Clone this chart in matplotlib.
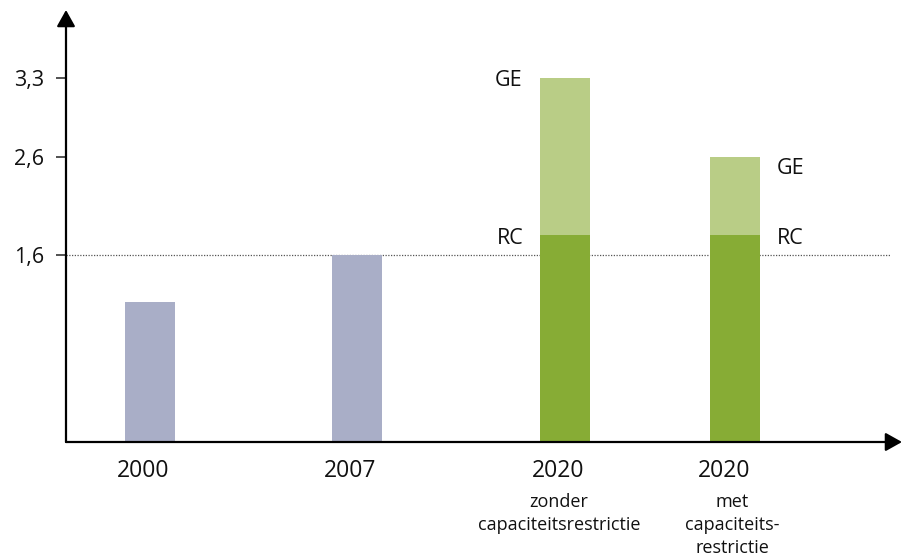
import numpy as np
import matplotlib
matplotlib.use("Agg")
import matplotlib.pyplot as plt
from matplotlib.transforms import blended_transform_factory, ScaledTranslation

# ---- data ----
years = ["2000", "2007", "2020", "2020"]
subtitles = ["", "", "zonder\ncapaciteitsrestrictie", "met\ncapaciteits-\nrestrictie"]
base_values = [1.2, 1.6, 0.0, 0.0]      # grey bars
rc_values = [0.0, 0.0, 1.8, 1.8]        # RC (dark green)
ge_totals = [0.0, 0.0, 3.3, 2.6]        # GE total height (light green top)
ytick_values = [1.6, 2.6, 3.3]
ytick_labels = ["1,6", "2,6", "3,3"]
ref_line = 1.6

# ---- layout ----
W, H = 904, 558
positions = [0.0, 1.0, 2.005, 2.826]
bar_w = 0.2415
col_grey = "#A9AEC7"
col_rc = "#87AC35"
col_ge = "#B9CD86"
font = "Open Sans"

# non-linear (schematic) vertical scale: pixel heights of tick values
kv = np.array([0.0] + ytick_values)
kp = np.array([0.0, 187.0, 285.5, 364.0])
s_hi = (kp[-1] - kp[-2]) / (kv[-1] - kv[-2])
s_lo = kp[1] / kv[1]

def fwd(v):
    v = np.asarray(v, dtype=float)
    out = np.interp(v, kv, kp)
    out = np.where(v > kv[-1], kp[-1] + (v - kv[-1]) * s_hi, out)
    out = np.where(v < 0, v * s_lo, out)
    return out

def inv(p):
    p = np.asarray(p, dtype=float)
    out = np.interp(p, kp, kv)
    out = np.where(p > kp[-1], kv[-1] + (p - kp[-1]) / s_hi, out)
    out = np.where(p < 0, p / s_lo, out)
    return out

fig = plt.figure(figsize=(W / 100, H / 100), dpi=100)
ax = fig.add_axes([66 / W, (H - 442) / H, (902 - 66) / W, 432 / H])
ax.set_yscale("function", functions=(fwd, inv))
ax.set_ylim(0, float(inv(432)))
ax.set_xlim((66 - 150) / 207, (902 - 150) / 207)

# bars
ax.bar(positions, base_values, width=bar_w, color=col_grey, zorder=2)
ax.bar(positions, rc_values, width=bar_w, color=col_rc, zorder=2)
ge_part = [t - r if t > 0 else 0 for t, r in zip(ge_totals, rc_values)]
ax.bar(positions, ge_part, width=bar_w, bottom=rc_values, color=col_ge, zorder=2)

# reference dotted line
ax.axhline(ref_line, xmin=0, xmax=(890 - 66) / (902 - 66), color="#555555",
           lw=0.9, ls=(0, (1, 1.2)), zorder=1)

# axes with arrows
for s in ax.spines.values():
    s.set_visible(False)
arrow = dict(arrowstyle="-|>,head_length=0.5,head_width=0.28", lw=1.6,
             color="black", shrinkA=0, shrinkB=0, mutation_scale=20)
ax.annotate("", xy=(1, 0), xytext=(0, 0), xycoords="axes fraction",
            arrowprops=arrow, annotation_clip=False, zorder=5)
ax.annotate("", xy=(0, 1), xytext=(0, 0), xycoords="axes fraction",
            arrowprops=arrow, annotation_clip=False, zorder=5)

# y ticks
ax.set_yticks(ytick_values)
ax.set_yticklabels(ytick_labels, fontfamily=font, fontsize=15.5, color="#111111")
ax.tick_params(axis="y", length=7, width=1.2, color="#333333", pad=9, direction="out")
ax.set_xticks([])

# x labels (years + subtitles)
trans = blended_transform_factory(ax.transData, fig.transFigure)
year_dx = [-7, -7, -7, -11]
sub_dx = [0, 0, -6, -3]
for x, yr, sub, dx, sdx in zip(positions, years, subtitles, year_dx, sub_dx):
    t = trans + ScaledTranslation(dx / 100, 0, fig.dpi_scale_trans)
    ax.text(x, (H - 477) / H, yr, transform=t, ha="center", va="baseline",
            fontfamily=font, fontsize=16.5, color="#111111")
    if sub:
        t2 = trans + ScaledTranslation(sdx / 100, 0, fig.dpi_scale_trans)
        for i, line in enumerate(sub.split("\n")):
            ax.text(x, (H - 507 - 23 * i) / H, line, transform=t2, ha="center",
                    va="baseline", fontfamily=font, fontsize=13, color="#111111")

# GE / RC labels
lab_kw = dict(textcoords="offset pixels", va="baseline", fontfamily=font,
              fontsize=15.5, color="#111111", annotation_clip=False)
ax.annotate("GE", xy=(positions[2] - bar_w / 2, ge_totals[2]), xytext=(-18, -8),
            ha="right", **lab_kw)
ax.annotate("RC", xy=(positions[2] - bar_w / 2, rc_values[2]), xytext=(-16, -9),
            ha="right", **lab_kw)
ax.annotate("GE", xy=(positions[3] + bar_w / 2, ge_totals[3]), xytext=(17, -17),
            ha="left", **lab_kw)
ax.annotate("RC", xy=(positions[3] + bar_w / 2, rc_values[3]), xytext=(17, -9),
            ha="left", **lab_kw)

fig.savefig("out.png", dpi=100)
